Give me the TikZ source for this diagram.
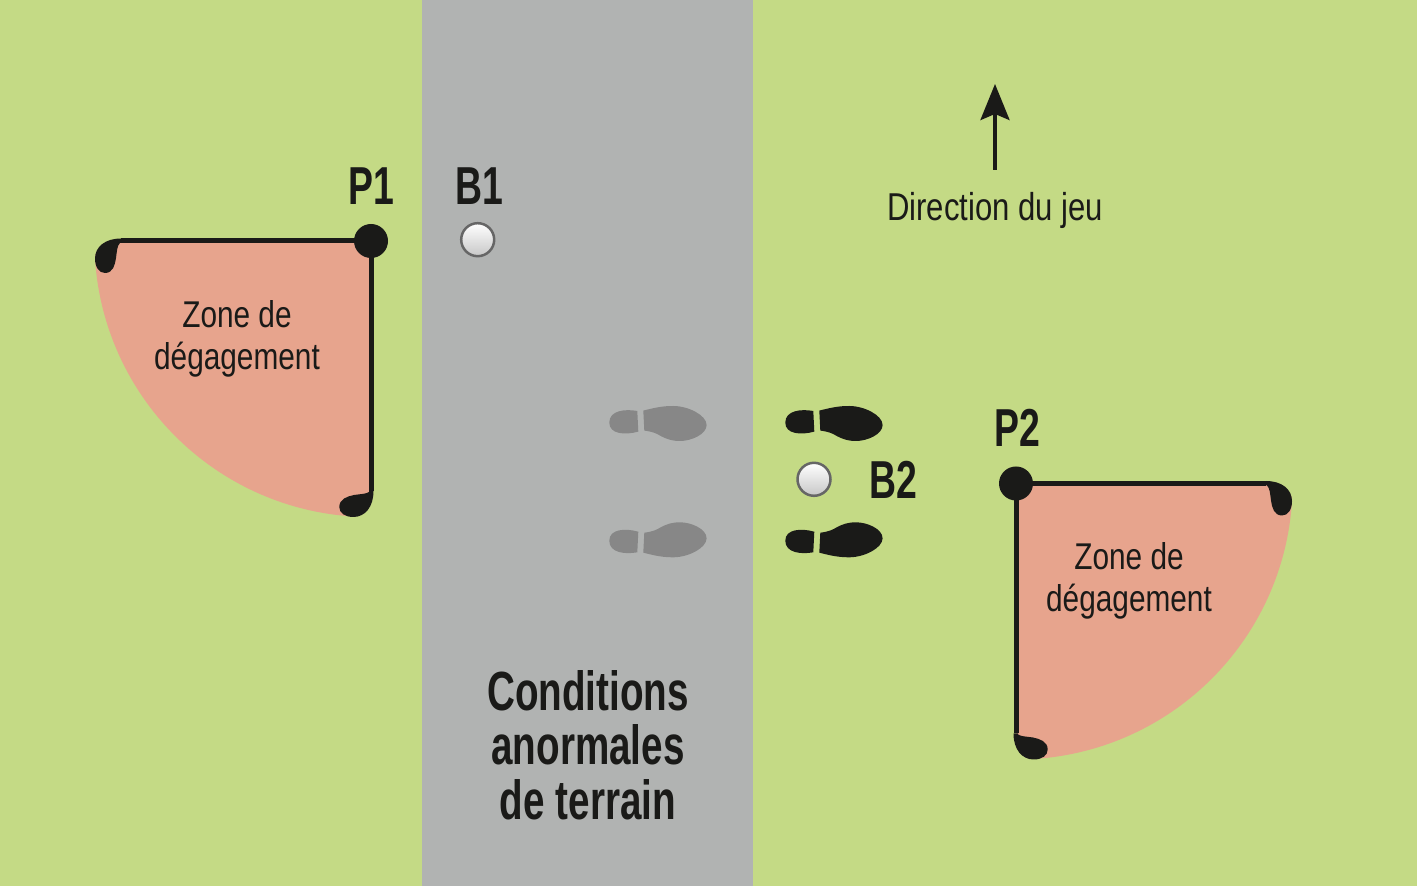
\documentclass[tikz,border=0pt]{standalone}
\usepackage{fontspec}
\setmainfont{Liberation Sans}[FakeStretch=0.80, BoldFeatures={FakeStretch=0.70}]
\usetikzlibrary{arrows.meta}
\definecolor{fairway}{HTML}{C4DA85}
\definecolor{abnormal}{HTML}{B1B3B2}
\definecolor{relief}{HTML}{E7A48D}
\definecolor{ink}{HTML}{1A1A18}
\definecolor{ghost}{HTML}{878787}
\tikzset{
  pointdot/.style={circle, fill=ink, minimum size=0.34cm, inner sep=0pt},
  ball/.style={circle, draw=black!60, line width=0.025cm, top color=white, bottom color=black!22, minimum size=0.33cm, inner sep=0pt},
  zonelabel/.style={align=center, text=ink, font=\fontsize{10.6}{11.9}\selectfont},
  mark label/.style={text=ink, font=\fontsize{15.2}{16}\selectfont\bfseries},
  zone/.pic={
    \fill[relief] (0,0) -- (-2.5,0) .. controls (-2.65,0) and (-2.76,-0.06) .. (-2.76,-0.176)
      arc[start angle=183.65, end angle=266.3, radius=2.76]
      .. controls (-0.06,-2.76) and (0,-2.65) .. (0,-2.5) -- cycle;
    \draw[ink, line width=0.05cm] (-2.5,0) -- (0,0) -- (0,-2.5);
    \fill[ink] (-2.5,0.025) .. controls (-2.66,0.025) and (-2.76,-0.06) .. (-2.76,-0.176)
      .. controls (-2.76,-0.26) and (-2.72,-0.32) .. (-2.66,-0.32)
      .. controls (-2.58,-0.32) and (-2.56,-0.24) .. (-2.55,-0.17)
      .. controls (-2.54,-0.1) and (-2.54,-0.05) .. (-2.51,-0.02) -- (-2.5,-0.02) -- cycle;
    \fill[ink] (0.025,-2.5) .. controls (0.025,-2.66) and (-0.06,-2.76) .. (-0.177,-2.76)
      .. controls (-0.26,-2.76) and (-0.317,-2.72) .. (-0.317,-2.66)
      .. controls (-0.317,-2.58) and (-0.24,-2.555) .. (-0.17,-2.54)
      .. controls (-0.1,-2.53) and (-0.05,-2.53) .. (-0.02,-2.51) -- (-0.02,-2.5) -- cycle;
  },
  shoe/.pic={
    \fill (-0.15,0.127) .. controls (-0.02,0.16) and (0.05,0.173) .. (0.15,0.173)
      .. controls (0.3,0.173) and (0.483,0.08) .. (0.483,-0.017)
      .. controls (0.483,-0.11) and (0.33,-0.177) .. (0.217,-0.177)
      .. controls (0.13,-0.177) and (0.08,-0.155) .. (0.03,-0.13)
      .. controls (-0.02,-0.1) and (-0.05,-0.085) .. (-0.14,-0.073) -- cycle;
    \fill (-0.21,0.123) .. controls (-0.33,0.145) and (-0.49,0.13) .. (-0.49,0.007)
      .. controls (-0.49,-0.11) and (-0.33,-0.12) .. (-0.2,-0.083) -- cycle;
  }
}
\begin{document}
\begin{tikzpicture}
    \fill[fairway] (0,0) rectangle (14.17,8.86);
    \fill[abnormal] (4.215,0) rectangle (7.53,8.86);

    \pic at (3.71,6.45) {zone};
    \pic[xscale=-1] at (10.16,4.025) {zone};
    \node[pointdot] (p1) at (3.71,6.45) {};
    \node[pointdot] (p2) at (10.16,4.025) {};

    \node[mark label] (p1 label) at (3.71,7.0) {P1};
    \node[mark label] (b1 label) at (4.79,7.0) {B1};
    \node[mark label] (p2 label) at (10.17,4.58) {P2};
    \node[mark label] (b2 label) at (8.93,4.06) {B2};

    \node[ball] (b1) at (4.777,6.463) {};
    \node[ball] (b2) at (8.14,4.067) {};

    \pic[ghost] at (6.583,4.627) {shoe};
    \pic[ghost, yscale=-1] at (6.583,3.46) {shoe};
    \pic[ink] at (8.343,4.627) {shoe};
    \pic[ink, yscale=-1] at (8.343,3.46) {shoe};

    \node[zonelabel] (zone1) at (2.37,5.47) {Zone de\\dégagement};
    \node[zonelabel] (zone2) at (11.29,3.05) {Zone de\\dégagement};
    \node[text=ink, font=\fontsize{11.05}{12}\selectfont] (direction) at (9.95,6.76) {Direction du jeu};
    \node[align=center, text=ink, font=\fontsize{15.7}{15.5}\selectfont\bfseries] (conditions) at (5.88,1.41) {Conditions\\anormales\\de terrain};

    \coordinate (tail) at (9.95,7.16);
    \coordinate (tip) at (9.95,8.02);
    \draw[-{Stealth[length=0.36cm, width=0.29cm, inset=0.06cm]}, ink, line width=0.035cm] (tail) -- (tip);
  \end{tikzpicture}
\end{document}
